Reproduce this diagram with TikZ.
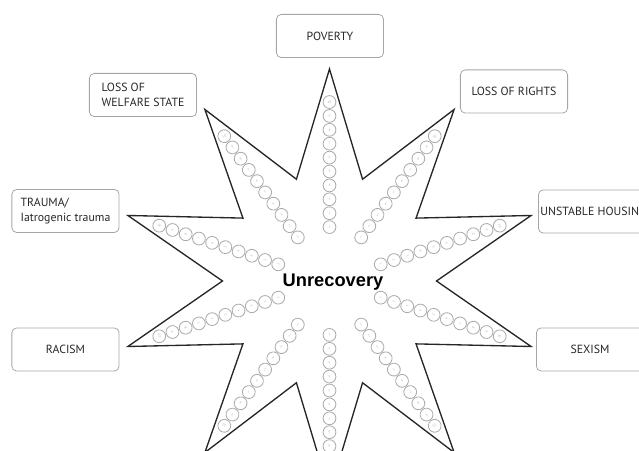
\documentclass[tikz,border=0pt]{standalone}
\usepackage{fontspec}
\setmainfont{PT Sans}
\newfontfamily\titulo{Liberation Sans}
\tikzset{
  caja/.style={draw=gray!70, line width=0.55pt, rounded corners=3.5pt, minimum width=2.68cm, minimum height=1.08cm, align=left, text=black!85, font=\fontsize{8.4}{10.6}\selectfont},
  cuenta/.style={circle, draw=gray!65, line width=0.6pt, minimum size=0.32cm, inner sep=0pt, font=\fontsize{2.5}{3}\selectfont, text=gray!60},
  estrella/.style={draw=black!85, line width=0.95pt, line join=miter},
}
\begin{document}
\begin{tikzpicture}[x=0.025cm, y=0.025cm]
  % Marco
  \useasboundingbox (-329.5,-170) rectangle (309.5,281);
  \clip (-329.5,-170) rectangle (309.5,281);

  % Estrella de diez puntas
  \draw[estrella] (90:212) \foreach \k in {0,...,9} { -- ({108+36*\k}:107) -- ({126+36*\k}:212) } -- cycle;

  % Cuentas en cada brazo
  \foreach \a in {90,126,...,414}
    \foreach \i in {1,...,10}
      \node[cuenta, rotate=\a-90] (c-\a-\i) at (\a:{40+13.9*\i}) {\i};

  % Etiquetas
  \node[caja] (pobreza) at (0.5,245) {POVERTY};
  \node[caja] (bienestar) at (-186.5,186) {LOSS OF\\WELFARE STATE};
  \node[caja] (trauma) at (-264,70) {TRAUMA/\\Iatrogenic trauma};
  \node[caja] (derechos) at (184.5,189.5) {LOSS OF RIGHTS};
  \node[caja, anchor=west, inner xsep=1.5pt] (vivienda) at (208.5,69.5) {UNSTABLE HOUSING};
  \node[caja] (racismo) at (-264,-68.5) {RACISM};
  \node[caja] (sexismo) at (260.5,-68.5) {SEXISM};

  % Centro
  \node[font=\titulo\bfseries\fontsize{13}{15}\selectfont, anchor=base] (centro) at (3.5,-6) {Unrecovery};
\end{tikzpicture}
\end{document}
